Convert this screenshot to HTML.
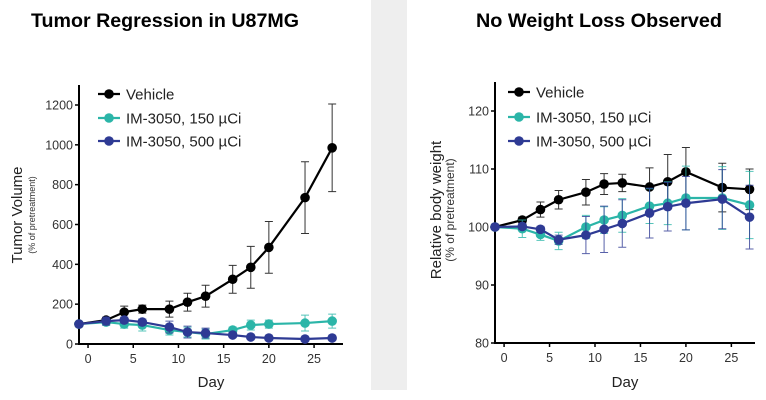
<!DOCTYPE html>
<html><head><meta charset="utf-8"><style>
body{margin:0;width:766px;height:400px;background:#fff;overflow:hidden;font-family:"Liberation Sans",Arial,sans-serif}
svg{position:absolute;left:0;top:0}
</style></head><body>
<svg id="chart" width="766" height="400">
<rect x="371" y="0" width="36" height="390" fill="#eeeeee"/>
<text x="165" y="27" text-anchor="middle" font-size="19" font-weight="bold" textLength="268" lengthAdjust="spacingAndGlyphs">Tumor Regression in U87MG</text>
<text x="599" y="27" text-anchor="middle" font-size="19" font-weight="bold" textLength="246" lengthAdjust="spacingAndGlyphs">No Weight Loss Observed</text>
<g id="left"></g>
<g id="right"></g>
</svg>
<script>
const days = [-1,2,4,6,9,11,13,16,18,20,24,27];
const seriesNames = ["Vehicle","IM-3050, 150 \u00b5Ci","IM-3050, 500 \u00b5Ci"];
const tumorVehicle = [100,120,160,175,175,210,240,325,385,485,735,985];
const tumorVehicleErr = [0,10,30,20,40,45,55,70,105,130,180,220];
const tumor150 = [100,110,100,95,70,60,50,70,95,100,105,115];
const tumor150Err = [0,15,20,30,25,25,25,15,25,20,40,35];
const tumor500 = [100,115,120,110,85,60,55,45,35,30,25,30];
const tumor500Err = [0,20,15,15,30,30,25,10,8,8,10,10];
const weightVehicle = [100,101.2,103,104.7,106,107.4,107.6,106.9,107.8,109.5,106.8,106.5];
const weightVehicleErr = [0,0.5,1.3,1.6,2.2,1.8,1.5,3.3,4.7,4.2,4.2,3.5];
const weight150 = [100,99.7,98.7,97.6,100,101.2,102,103.6,104.1,105,105,103.8];
const weight150Err = [0,1.5,1,1.5,2,2.3,2.9,3,3.7,5.5,5.4,5.8];
const weight500 = [100,100.1,99.6,97.8,98.6,99.6,100.6,102.4,103.5,104.1,104.8,101.7];
const weight500Err = [0,0.5,0.5,0.8,3.2,4,4.1,4.3,4.2,4.6,5.1,5.5];
const xTicks = [0,5,10,15,20,25];
const tumorTicks = [0,200,400,600,800,1000,1200];
const weightTicks = [80,90,100,110,120];
const colors = ["#000000","#2bb5a8","#2e3a94"];
const NS = "http://www.w3.org/2000/svg";
function el(parent, tag, attrs, text){
  const e = document.createElementNS(NS, tag);
  for (const k in attrs) e.setAttribute(k, attrs[k]);
  if (text !== undefined) e.textContent = text;
  parent.appendChild(e);
  return e;
}
function drawChart(g, cfg){
  const xs = d => cfg.x0 + (d - cfg.dmin) * (cfg.x1 - cfg.x0) / (cfg.dmax - cfg.dmin);
  const ys = v => cfg.y0 - (v - cfg.vmin) * (cfg.y0 - cfg.y1) / (cfg.vmax - cfg.vmin);
  const ax = el(g, "path", {d:`M${cfg.x0},${cfg.yTop}V${cfg.y0}H${cfg.x1}`, fill:"none", stroke:"#000", "stroke-width":2});
  
  
  cfg.yt.forEach(t => {
    el(g, "line", {x1:cfg.x0-4, x2:cfg.x0, y1:ys(t), y2:ys(t), stroke:"#000", "stroke-width":1.5});
    const lb = el(g, "text", {x:cfg.x0-6, y:ys(t)+4.5, "text-anchor":"end", "font-size":12.5, fill:"#333"}, t);
    
    
  });
  xTicks.forEach(t => {
    el(g, "line", {x1:xs(t), x2:xs(t), y1:cfg.y0, y2:cfg.y0+4, stroke:"#000", "stroke-width":1.5});
    const lb = el(g, "text", {x:xs(t), y:cfg.y0+19, "text-anchor":"middle", "font-size":12.5, fill:"#333"}, t);
    
    
  });
  const xl = el(g, "text", {x:(cfg.x0+cfg.x1)/2, y:387, "text-anchor":"middle", "font-size":15, fill:"#222"}, "Day");
  
  
  const yl = el(g, "text", {transform:`translate(${cfg.ytx},${cfg.ytc}) rotate(-90)`, "text-anchor":"middle", "font-size":15, fill:"#222"}, cfg.ytitle);
  
  
  const ys2 = el(g, "text", {transform:`translate(${cfg.ytx+13},${cfg.ytc}) rotate(-90)`, "text-anchor":"middle", "font-size":cfg.subSize, fill:"#333"}, "(% of pretreatment)");
  
  
  cfg.series.forEach((s, i) => {
    const sg = el(g, "g", {});
    
    
    s.v.forEach((v, j) => {
      if (s.e[j] > 0) {
        const x = xs(days[j]), a = ys(v - s.e[j]), b = ys(v + s.e[j]);
        el(sg, "path", {d:`M${x},${a}V${b}M${x-4},${a}H${x+4}M${x-4},${b}H${x+4}`, stroke:colors[i], "stroke-width":1, fill:"none", opacity:0.8});
      }
    });
    el(sg, "polyline", {points:s.v.map((v,j)=>xs(days[j])+","+ys(v)).join(" "), fill:"none", stroke:colors[i], "stroke-width":2.2});
    s.v.forEach((v, j) => {
      const c = el(sg, "circle", {cx:xs(days[j]), cy:ys(v), r:4.8, fill:colors[i]});
      
      
    });
    const ly = cfg.legY[i];
    const lg = el(g, "g", {});
    
    
    el(lg, "line", {x1:cfg.legX-11, x2:cfg.legX+11, y1:ly, y2:ly, stroke:colors[i], "stroke-width":2.2});
    el(lg, "circle", {cx:cfg.legX, cy:ly, r:4.8, fill:colors[i]});
    el(lg, "text", {x:cfg.legX+17, y:ly+5.5, "font-size":15, fill:"#222"}, seriesNames[i]);
  });
}
drawChart(document.getElementById("left"), {
  x0:79, x1:343, dmin:-1, dmax:28.2, y0:344, y1:105, yTop:85, vmin:0, vmax:1200,
  yt:tumorTicks, ytitle:"Tumor Volume", ytx:22, ytc:215, subSize:9,
  legX:109, legY:[94,118,141],
  series:[{v:tumorVehicle,e:tumorVehicleErr},{v:tumor150,e:tumor150Err},{v:tumor500,e:tumor500Err}]
});
drawChart(document.getElementById("right"), {
  x0:495, x1:755, dmin:-1, dmax:27.6, y0:343, y1:111, yTop:82, vmin:80, vmax:120,
  yt:weightTicks, ytitle:"Relative body weight", ytx:441, ytc:210, subSize:12,
  legX:519, legY:[92,117,141],
  series:[{v:weightVehicle,e:weightVehicleErr},{v:weight150,e:weight150Err},{v:weight500,e:weight500Err}]
});
</script>
</body></html>
